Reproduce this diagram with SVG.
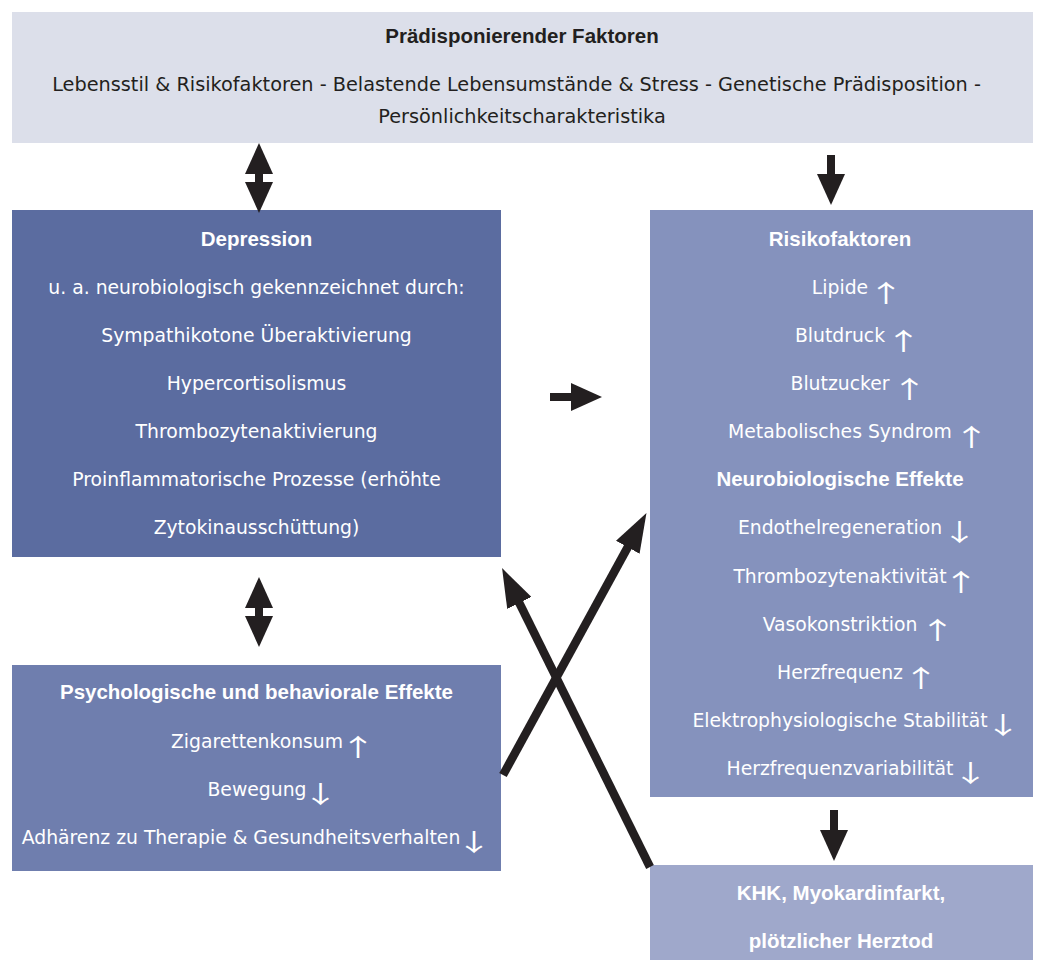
<svg xmlns="http://www.w3.org/2000/svg" width="1038" height="960" viewBox="0 0 1038 960">
<style>
text{font-family:"DejaVu Sans",sans-serif;font-size:18.8px;}
.t{font-size:19.3px;}
.c{text-anchor:middle;}
.b{font-family:"Liberation Sans",Arial,sans-serif;font-weight:bold;font-size:20.5px;}
.dk{fill:#231f20;}
.w{fill:#ffffff;}
.ar{font-family:"Noto Sans CJK JP",sans-serif;font-size:24px;fill:#ffffff;text-anchor:middle;}
.con{stroke:#231f20;stroke-width:8;fill:none;}
.x{stroke-width:8.5;}
</style>
<defs>
<marker id="ah" viewBox="-1 -14 31 28" refX="0" refY="0" markerWidth="31" markerHeight="28" markerUnits="userSpaceOnUse" orient="auto-start-reverse">
<path d="M-1,-14 L30,0 L-1,14 Z" fill="#231f20"/>
</marker>
<marker id="ahx" viewBox="-1 -13.5 39 27" refX="0" refY="0" markerWidth="39" markerHeight="27" markerUnits="userSpaceOnUse" orient="auto">
<path d="M-1,-13.5 L38,0 L-1,13.5 Z" fill="#231f20"/>
</marker>
</defs>
<rect width="1038" height="960" fill="#ffffff"/>

<g id="praedisponierend">
<rect x="12" y="12" width="1021" height="131" fill="#dcdfea"/>
<text class="c b dk" x="522" y="43">Prädisponierender Faktoren</text>
<text class="c t dk" x="516.5" y="91">Lebensstil &amp; Risikofaktoren - Belastende Lebensumstände &amp; Stress - Genetische Prädisposition -</text>
<text class="c t dk" x="522" y="123">Persönlichkeitscharakteristika</text>
</g>

<g id="depression">
<rect x="12" y="210" width="489" height="347" fill="#5b6ca0"/>
<text class="c b w" x="256.5" y="246">Depression</text>
<text class="c w" x="256.5" y="294">u. a. neurobiologisch gekennzeichnet durch:</text>
<text class="c w" x="256.5" y="342">Sympathikotone Überaktivierung</text>
<text class="c w" x="256.5" y="390">Hypercortisolismus</text>
<text class="c w" x="256.5" y="438">Thrombozytenaktivierung</text>
<text class="c w" x="256.5" y="486">Proinflammatorische Prozesse (erhöhte</text>
<text class="c w" x="256.5" y="534">Zytokinausschüttung)</text>
</g>

<g id="risikofaktoren">
<rect x="650" y="210" width="383" height="587" fill="#8592bd"/>
<text class="c b w" x="840" y="246">Risikofaktoren</text>
<text class="c w" x="840" y="294">Lipide</text><text class="ar" transform="translate(886 302) scale(1.5 1)">↑</text>
<text class="c w" x="840" y="342">Blutdruck</text><text class="ar" transform="translate(903.5 350) scale(1.5 1)">↑</text>
<text class="c w" x="840" y="390">Blutzucker</text><text class="ar" transform="translate(909.5 398) scale(1.5 1)">↑</text>
<text class="c w" x="840" y="438">Metabolisches Syndrom</text><text class="ar" transform="translate(971.5 446) scale(1.5 1)">↑</text>
<text class="c b w" x="840" y="486">Neurobiologische Effekte</text>
<text class="c w" x="840" y="534">Endothelregeneration</text><text class="ar" transform="translate(959.5 541) scale(1.5 1)">↓</text>
<text class="c w" x="840" y="583">Thrombozytenaktivität</text><text class="ar" transform="translate(961 591) scale(1.5 1)">↑</text>
<text class="c w" x="840" y="631">Vasokonstriktion</text><text class="ar" transform="translate(937.5 639) scale(1.5 1)">↑</text>
<text class="c w" x="840" y="679">Herzfrequenz</text><text class="ar" transform="translate(921 687) scale(1.5 1)">↑</text>
<text class="c w" x="840" y="727">Elektrophysiologische Stabilität</text><text class="ar" transform="translate(1003 734) scale(1.5 1)">↓</text>
<text class="c w" x="840" y="775">Herzfrequenzvariabilität</text><text class="ar" transform="translate(970.5 782) scale(1.5 1)">↓</text>
</g>

<g id="psychologisch">
<rect x="12" y="665" width="489" height="206" fill="#6f7eae"/>
<text class="c b w" x="256.5" y="699">Psychologische und behaviorale Effekte</text>
<text class="c w" x="257" y="748">Zigarettenkonsum</text><text class="ar" transform="translate(358 756) scale(1.5 1)">↑</text>
<text class="c w" x="257" y="796">Bewegung</text><text class="ar" transform="translate(320.5 803) scale(1.5 1)">↓</text>
<text class="c w" x="241" y="844">Adhärenz zu Therapie &amp; Gesundheitsverhalten</text><text class="ar" transform="translate(474 851) scale(1.5 1)">↓</text>
</g>

<g id="khk">
<rect x="650" y="865" width="383" height="95" fill="#9fa8cb"/>
<text class="c b w" x="841" y="900">KHK, Myokardinfarkt,</text>
<text class="c b w" x="841" y="948">plötzlicher Herztod</text>
</g>

<g id="connectors">
<line class="con" x1="259" y1="173" x2="259" y2="183" marker-start="url(#ah)" marker-end="url(#ah)"/>
<line class="con" x1="831" y1="155" x2="831" y2="175" marker-end="url(#ah)"/>
<line class="con" x1="550" y1="397" x2="572" y2="397" marker-end="url(#ah)"/>
<line class="con" x1="259" y1="607" x2="259" y2="617" marker-start="url(#ah)" marker-end="url(#ah)"/>
<line class="con" x1="834" y1="810" x2="834" y2="831" marker-end="url(#ah)"/>
<line class="con x" x1="503" y1="775" x2="628.2" y2="546.4" marker-end="url(#ahx)"/>
<line class="con x" x1="650" y1="867" x2="518.9" y2="602.1" marker-end="url(#ahx)"/>
</g>
</svg>
